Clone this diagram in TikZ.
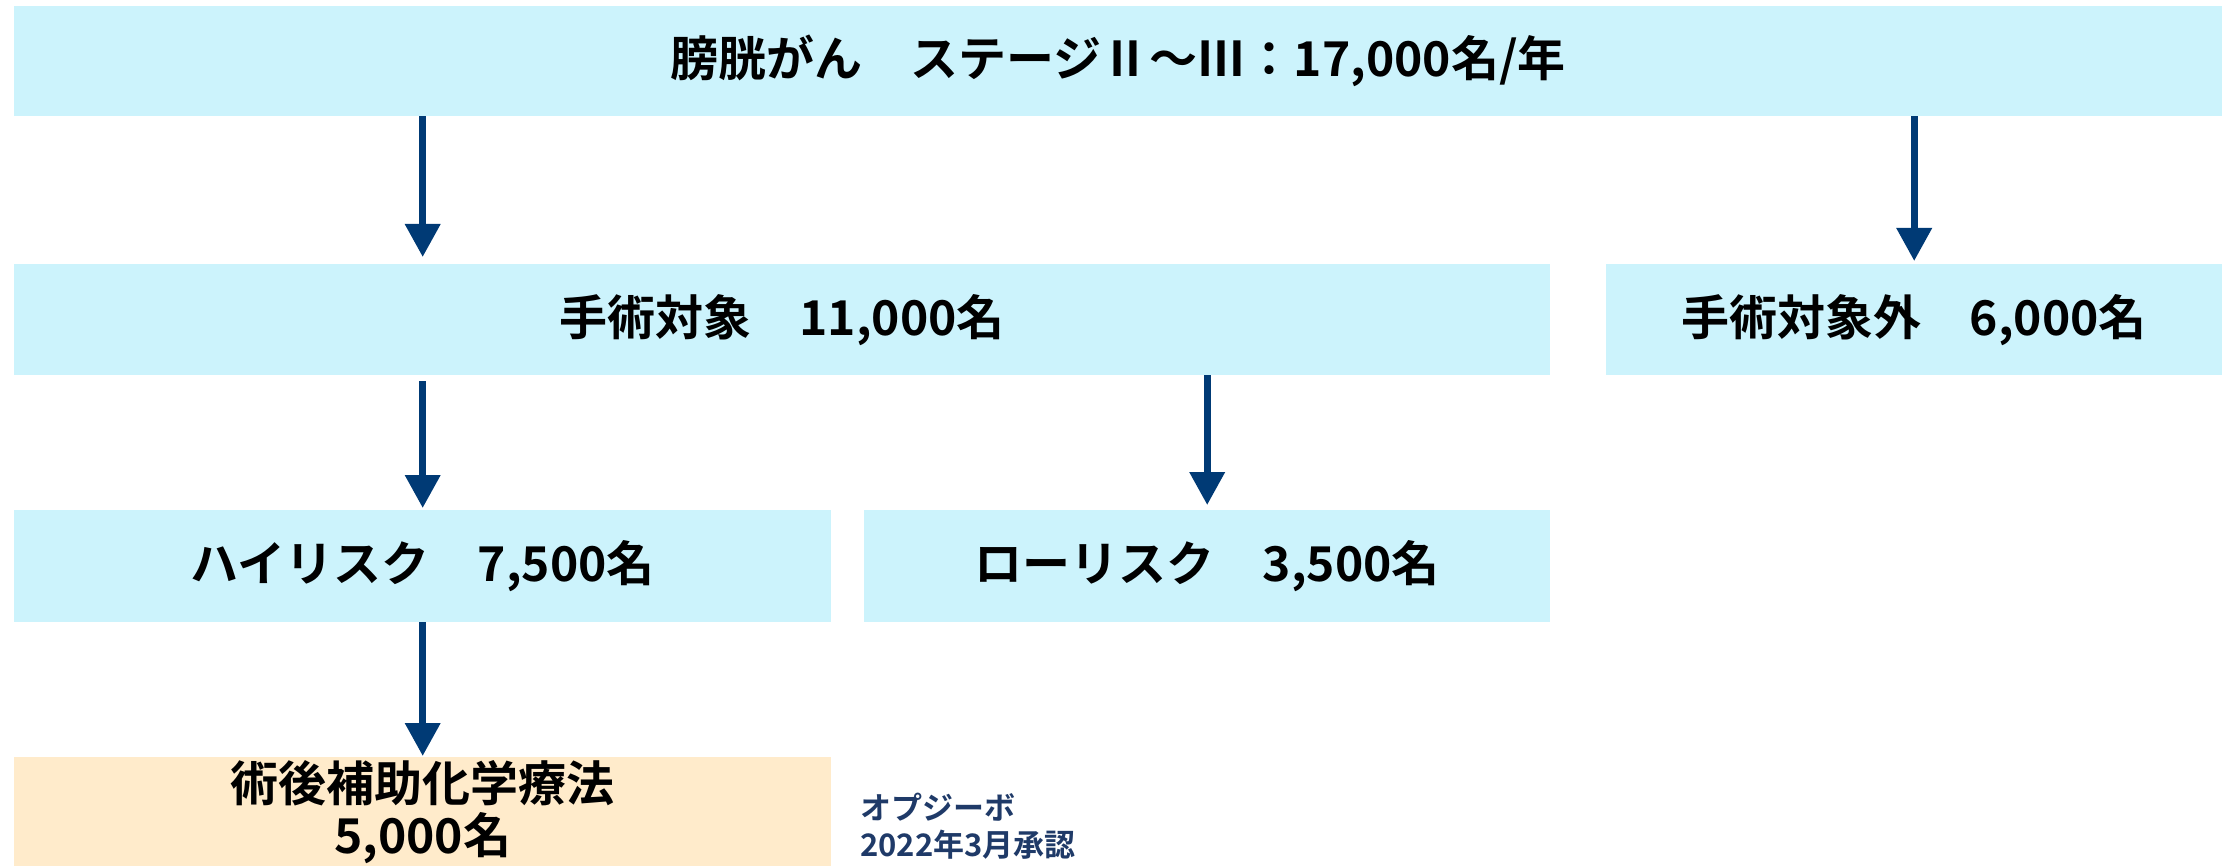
\documentclass[tikz,border=0pt]{standalone}
\usepackage{fontspec}
\setmainfont{Noto Sans CJK JP Bold}
\usetikzlibrary{arrows.meta}
\definecolor{boxc}{HTML}{CCF3FC}
\definecolor{boxo}{HTML}{FFEBCB}
\definecolor{arrc}{HTML}{003A75}
\definecolor{notec}{HTML}{1F3A68}
\begin{document}
\begin{tikzpicture}[x=1pt,y=-1pt,
  box/.style={fill=boxc, draw=none, inner sep=0pt, anchor=north west, align=center,
    font=\fontsize{48}{52}\selectfont},
  arr/.style={draw=arrc, line width=7pt, -{Triangle[length=33pt,width=34pt]}}]
\useasboundingbox (0,0) rectangle (2236,866);
\node[box, minimum width=2208pt, minimum height=110pt] (top) at (14,6) {膀胱がん　ステージⅡ～Ⅲ：17,000名/年};
\node[box, minimum width=1536pt, minimum height=111pt] (sx) at (14,264) {手術対象　11,000名};
\node[box, minimum width=616pt, minimum height=111pt] (sxg) at (1606,264) {手術対象外　6,000名};
\node[box, minimum width=817pt, minimum height=112pt] (hr) at (14,510) {ハイリスク　7,500名};
\node[box, minimum width=686pt, minimum height=112pt] (lr) at (864,510) {ローリスク　3,500名};
\node[box, fill=boxo, minimum width=817pt, minimum height=109pt] (adj) at (14,757) {術後補助化学療法\\5,000名};
\node[anchor=west, align=left, inner sep=0pt, text=notec, font=\fontsize{31}{37}\selectfont] (note) at (860,826) {オプジーボ\\2022年3月承認};
\draw[arr, shorten >=7pt] (top.south -| hr.north) -- (sx.north -| hr.north);
\draw[arr, shorten >=3pt] (top.south -| sxg.north) -- (sxg.north);
\draw[arr, shorten <=6pt, shorten >=2pt] (sx.south -| hr.north) -- (hr.north);
\draw[arr, shorten >=5pt] (sx.south -| lr.north) -- (lr.north);
\draw[arr, shorten >=1pt] (hr.south) -- (adj.north);
\end{tikzpicture}
\end{document}
